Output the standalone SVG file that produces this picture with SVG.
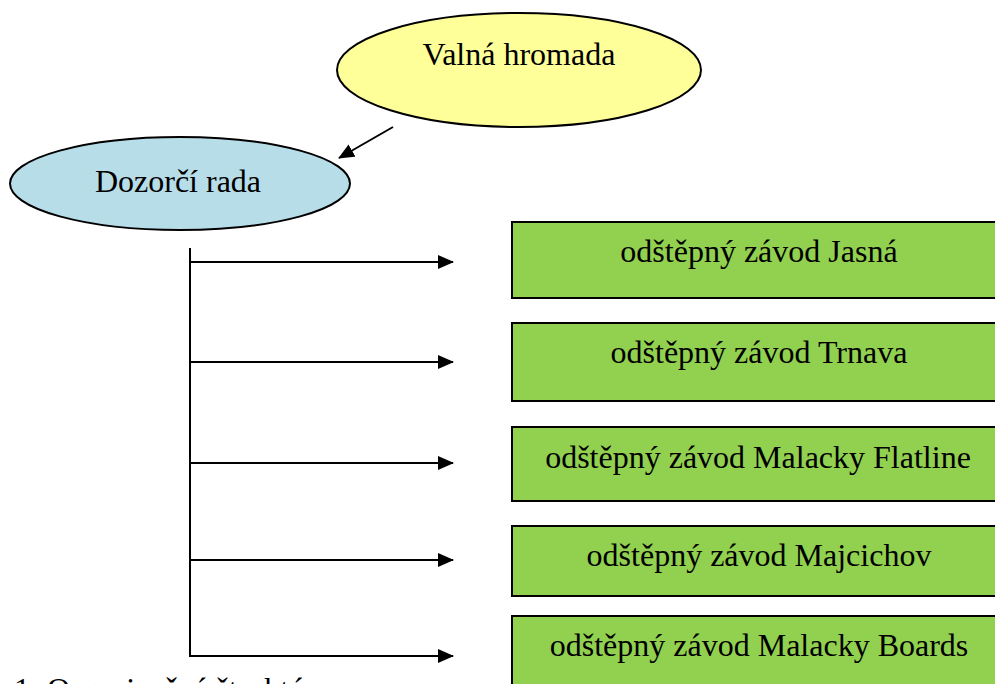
<svg xmlns="http://www.w3.org/2000/svg" width="995" height="684" viewBox="0 0 995 684">
<style>
text{font-family:"Liberation Serif","Times New Roman",serif;font-size:32px;fill:#000;text-anchor:middle}
.box{fill:#92D050;stroke:#000;stroke-width:2}
.ell{stroke:#000;stroke-width:2}
.ln{stroke:#000;stroke-width:2;fill:none}
</style>
<defs>
<marker id="ah" markerWidth="16" markerHeight="14" refX="15" refY="7" orient="auto" markerUnits="userSpaceOnUse">
<path d="M0,0 L16,7 L0,14 Z" fill="#000"/>
</marker>
</defs>
<rect width="995" height="684" fill="#fff"/>
<g id="valna">
<ellipse class="ell" cx="519" cy="70" rx="182" ry="57" fill="#FFFF99"/>
<text x="519" y="65">Valná hromada</text>
</g>
<g id="dozorci">
<ellipse class="ell" cx="180" cy="183.5" rx="170" ry="46.5" fill="#B7DDE8"/>
<text x="178" y="192">Dozorčí rada</text>
</g>
<g id="oz-jasna">
<rect class="box" x="512" y="222" width="500" height="76"/>
<text x="759" y="262">odštěpný závod Jasná</text>
</g>
<g id="oz-trnava">
<rect class="box" x="512" y="323" width="500" height="78"/>
<text x="759" y="363">odštěpný závod Trnava</text>
</g>
<g id="oz-flatline">
<rect class="box" x="512" y="427" width="500" height="74"/>
<text x="758" y="468">odštěpný závod Malacky Flatline</text>
</g>
<g id="oz-majcichov">
<rect class="box" x="512" y="526" width="500" height="70"/>
<text x="759" y="566">odštěpný závod Majcichov</text>
</g>
<g id="oz-boards">
<rect class="box" x="512" y="616" width="500" height="100"/>
<text x="759" y="656">odštěpný závod Malacky Boards</text>
</g>
<g id="connectors">
<line class="ln" x1="393" y1="127" x2="339" y2="158" marker-end="url(#ah)"/>
<line class="ln" x1="190" y1="248" x2="190" y2="657"/>
<line class="ln" x1="189" y1="262" x2="453" y2="262" marker-end="url(#ah)"/>
<line class="ln" x1="189" y1="362" x2="453" y2="362" marker-end="url(#ah)"/>
<line class="ln" x1="189" y1="463" x2="453" y2="463" marker-end="url(#ah)"/>
<line class="ln" x1="189" y1="560" x2="453" y2="560" marker-end="url(#ah)"/>
<line class="ln" x1="189" y1="656" x2="453" y2="656" marker-end="url(#ah)"/>
</g>
<text x="14" y="700" style="text-anchor:start">1: Organizačná štruktúra</text>
</svg>
